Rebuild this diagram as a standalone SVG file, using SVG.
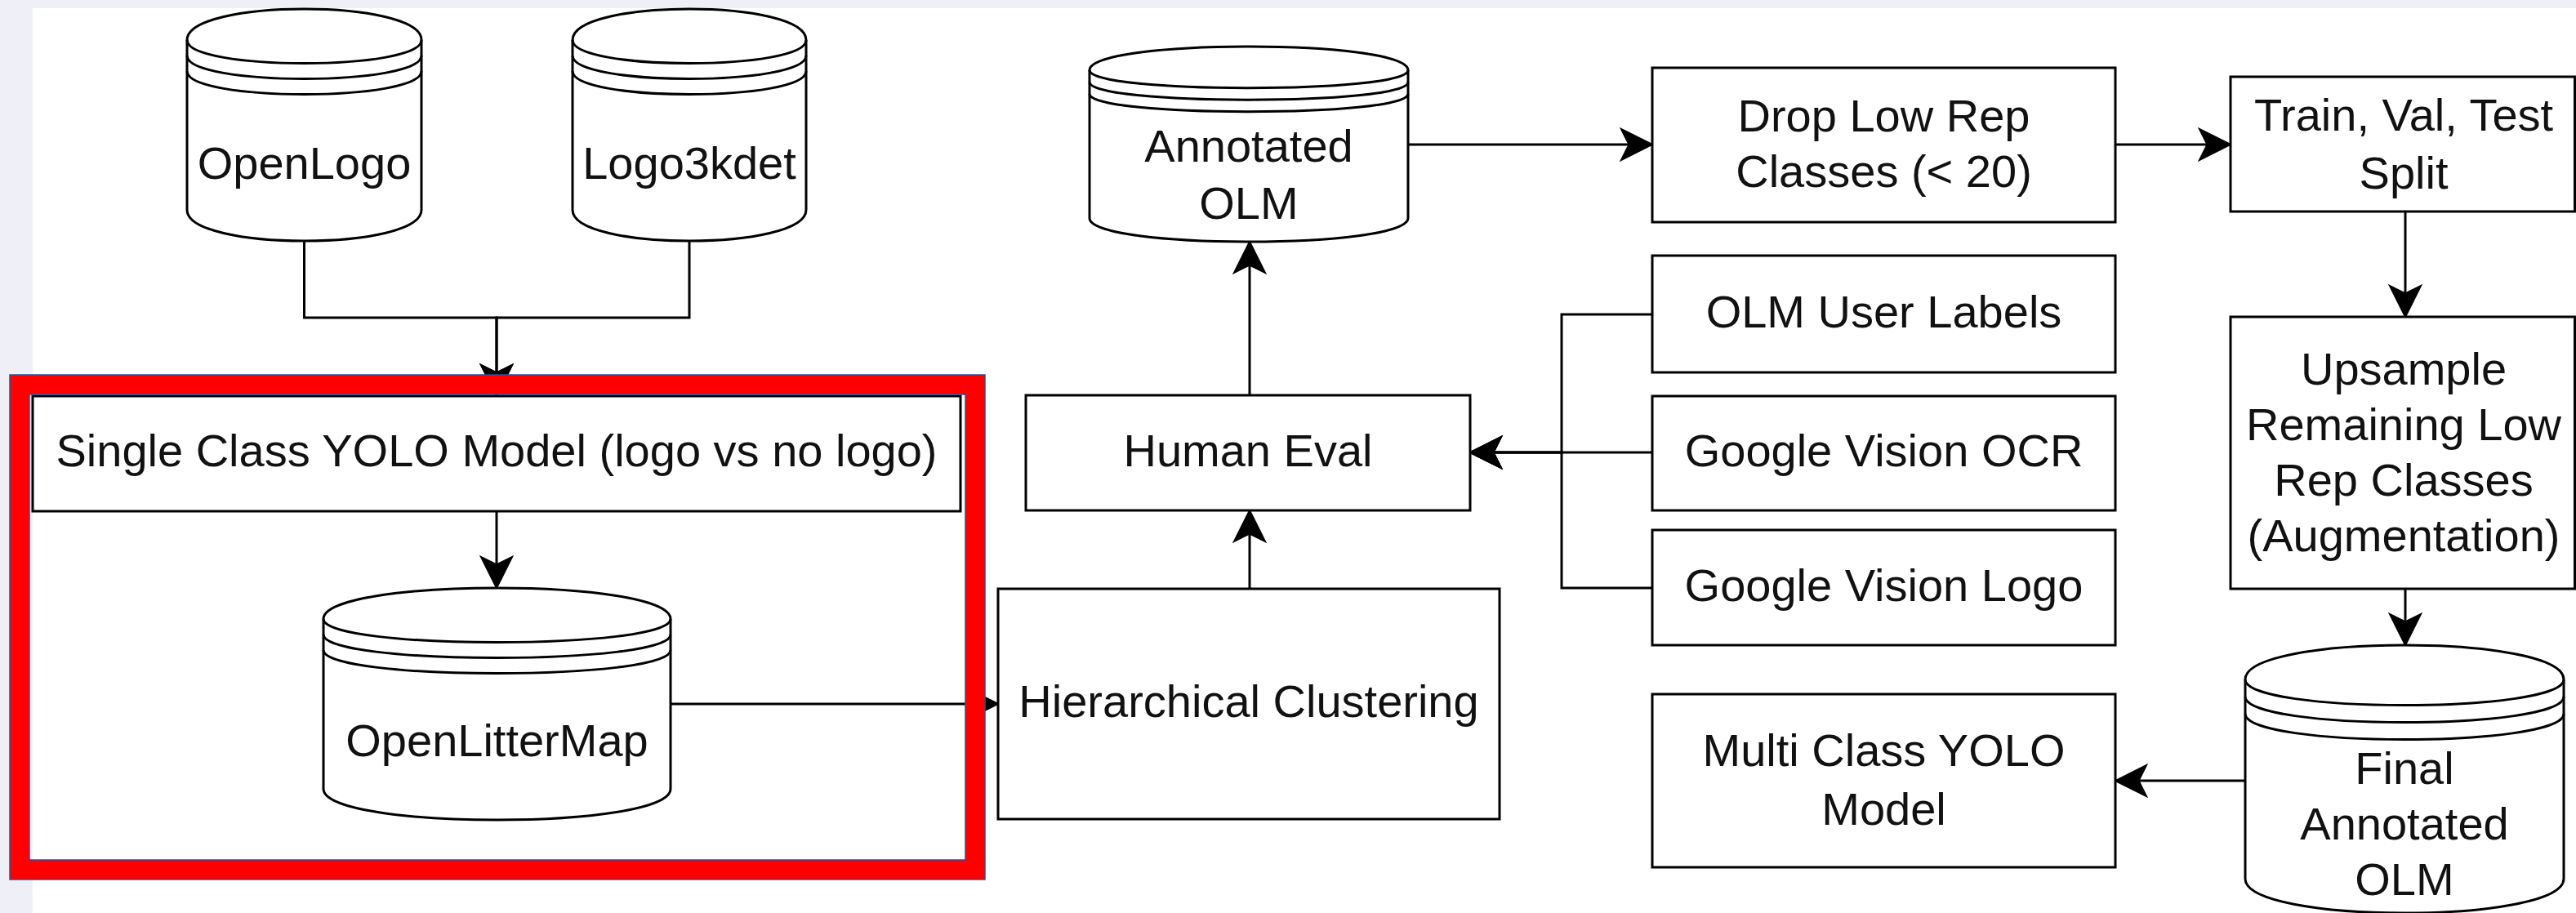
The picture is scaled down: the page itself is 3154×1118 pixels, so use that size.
<svg xmlns="http://www.w3.org/2000/svg" width="3154" height="1118" viewBox="0 0 3154 1118">
  <style>
    .box { fill: #ffffff; stroke: #000000; stroke-width: 3; }
    .db { fill: #ffffff; stroke: #000000; stroke-width: 3; }
    .db-ring { fill: none; stroke: #000000; stroke-width: 3; }
    .lbl { font-family: "Liberation Sans", Arial, Helvetica, sans-serif; font-size: 56px; fill: #111111; text-anchor: middle; }
    .edge { fill: none; stroke: #000000; stroke-width: 3; marker-end: url(#arrow); }
    .frame { fill: none; stroke: #ff0000; stroke-width: 24; }
    .frame-edge { fill: none; stroke: #2f528f; stroke-width: 1.5; }
  </style>
  <defs>
    <marker id="arrow" markerUnits="userSpaceOnUse" viewBox="-42 -22 44 44" markerWidth="44" markerHeight="44" refX="0" refY="0" orient="auto">
      <path d="M0,0 L-38,-19 L-28.5,0 L-38,19 Z" fill="#000000" stroke="#000000" stroke-width="2" stroke-linejoin="miter"/>
    </marker>
  </defs>

  <!-- page background -->
  <rect x="0" y="0" width="3154" height="1118" fill="#efeff8"/>
  <rect x="40" y="10" width="3114" height="1108" fill="#ffffff"/>

  <!-- connectors -->
  <g id="connectors">
    <path class="edge" d="M372.5,295 V389 H608 V485"/>
    <path class="edge" d="M844,295 V389 H608 V485"/>
    <path class="edge" d="M608,626 V720"/>
    <path class="edge" d="M821,862 H1222"/>
    <path class="edge" d="M1530,721 V625"/>
    <path class="edge" d="M1530,484 V296"/>
    <path class="edge" d="M1724,177 H2023"/>
    <path class="edge" d="M2590,177 H2731"/>
    <path class="edge" d="M2945,259 V388"/>
    <path class="edge" d="M2945,721 V790"/>
    <path class="edge" d="M2749,956 H2590"/>
    <path class="edge" d="M2023,385 H1912 V554 H1800"/>
    <path class="edge" d="M2023,554 H1800"/>
    <path class="edge" d="M2023,720 H1912 V554 H1800"/>
  </g>

  <!-- data stores: outline, then the three rim arcs -->
  <g id="openlogo">
    <path class="db" d="M229,49 C229,-1.7 516,-1.7 516,49 L516,257 C516,307.7 229,307.7 229,257 Z"/>
    <path class="db-ring" d="M229,49 C229,87 516,87 516,49 M229,68 C229,106 516,106 516,68 M229,87 C229,125 516,125 516,87"/>
    <text class="lbl" x="372.5" y="219">OpenLogo</text>
  </g>

  <g id="logo3kdet">
    <path class="db" d="M701,49 C701,-1.7 987,-1.7 987,49 L987,257 C987,307.7 701,307.7 701,257 Z"/>
    <path class="db-ring" d="M701,49 C701,87 987,87 987,49 M701,68 C701,106 987,106 987,68 M701,87 C701,125 987,125 987,87"/>
    <text class="lbl" x="844" y="219">Logo3kdet</text>
  </g>

  <g id="single-class-yolo">
    <rect class="box" x="40" y="485" width="1136" height="141"/>
    <text class="lbl" x="608" y="571">Single Class YOLO Model (logo vs no logo)</text>
  </g>

  <g id="openlittermap">
    <path class="db" d="M396,758 C396,707.3 821,707.3 821,758 L821,966 C821,1016.7 396,1016.7 396,966 Z"/>
    <path class="db-ring" d="M396,758 C396,796 821,796 821,758 M396,777 C396,815 821,815 821,777 M396,796 C396,834 821,834 821,796"/>
    <text class="lbl" x="608.5" y="926">OpenLitterMap</text>
  </g>

  <g id="hierarchical-clustering">
    <rect class="box" x="1222" y="721" width="614" height="282"/>
    <text class="lbl" x="1529" y="878">Hierarchical Clustering</text>
  </g>

  <g id="human-eval">
    <rect class="box" x="1256" y="484" width="544" height="141"/>
    <text class="lbl" x="1528" y="571">Human Eval</text>
  </g>

  <g id="annotated-olm">
    <path class="db" d="M1334,86 C1334,47.3 1724,47.3 1724,86 L1724,267 C1724,305.7 1334,305.7 1334,267 Z"/>
    <path class="db-ring" d="M1334,86 C1334,115 1724,115 1724,86 M1334,100.5 C1334,129.5 1724,129.5 1724,100.5 M1334,115 C1334,144 1724,144 1724,115"/>
    <text class="lbl" x="1529" y="198">Annotated</text>
    <text class="lbl" x="1529" y="268">OLM</text>
  </g>

  <g id="drop-low-rep">
    <rect class="box" x="2023" y="83" width="567" height="189"/>
    <text class="lbl" x="2306.5" y="161">Drop Low Rep</text>
    <text class="lbl" x="2306.5" y="229">Classes (&lt; 20)</text>
  </g>

  <g id="olm-user-labels">
    <rect class="box" x="2023" y="313" width="567" height="143"/>
    <text class="lbl" x="2306.5" y="401">OLM User Labels</text>
  </g>

  <g id="google-vision-ocr">
    <rect class="box" x="2023" y="485" width="567" height="140"/>
    <text class="lbl" x="2306.5" y="571">Google Vision OCR</text>
  </g>

  <g id="google-vision-logo">
    <rect class="box" x="2023" y="649" width="567" height="141"/>
    <text class="lbl" x="2306.5" y="736">Google Vision Logo</text>
  </g>

  <g id="multi-class-yolo">
    <rect class="box" x="2023" y="850" width="567" height="212"/>
    <text class="lbl" x="2306.5" y="938">Multi Class YOLO</text>
    <text class="lbl" x="2306.5" y="1010">Model</text>
  </g>

  <g id="train-val-test">
    <rect class="box" x="2731" y="94" width="421.5" height="165"/>
    <text class="lbl" x="2943" y="160">Train, Val, Test</text>
    <text class="lbl" x="2943" y="231">Split</text>
  </g>

  <g id="upsample">
    <rect class="box" x="2731" y="388" width="421.5" height="333"/>
    <text class="lbl" x="2943" y="471">Upsample</text>
    <text class="lbl" x="2943" y="539">Remaining Low</text>
    <text class="lbl" x="2943" y="607">Rep Classes</text>
    <text class="lbl" x="2943" y="675">(Augmentation)</text>
  </g>

  <g id="final-annotated-olm">
    <path class="db" d="M2749,832 C2749,776 3139,776 3139,832 L3139,1076 C3139,1132 2749,1132 2749,1076 Z"/>
    <path class="db-ring" d="M2749,832 C2749,874 3139,874 3139,832 M2749,853 C2749,895 3139,895 3139,853 M2749,874 C2749,916 3139,916 3139,874"/>
    <text class="lbl" x="2944" y="960">Final</text>
    <text class="lbl" x="2944" y="1028">Annotated</text>
    <text class="lbl" x="2944" y="1096">OLM</text>
  </g>

  <!-- red highlight frame around the detection stage -->
  <g id="highlight-frame">
    <rect class="frame" x="24" y="471" width="1170" height="594"/>
    <rect class="frame-edge" x="12" y="459" width="1194" height="618"/>
    <rect class="frame-edge" x="36" y="483" width="1146" height="570"/>
  </g>
</svg>
